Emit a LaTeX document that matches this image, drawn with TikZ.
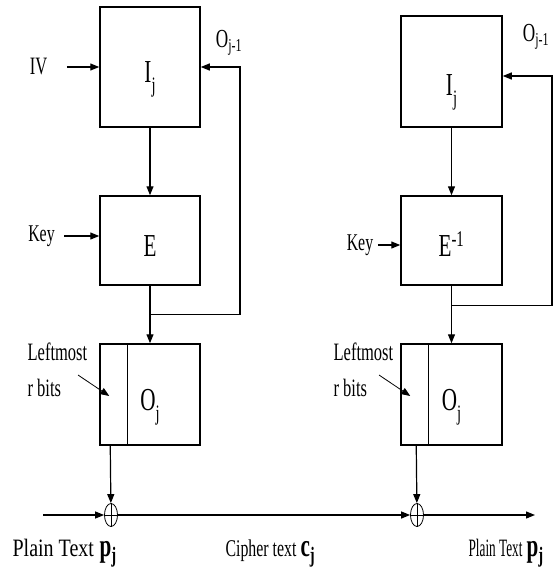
\documentclass[tikz,border=0pt]{standalone}
\usepackage{fontspec}
\setmainfont{Liberation Serif}[FakeStretch=0.66]
\newfontfamily\narrowfont{Liberation Serif}[FakeStretch=0.53]
\newfontfamily\widefont{Liberation Serif}[FakeStretch=0.8]
\usetikzlibrary{calc, arrows.meta, shapes.geometric}
\newcommand{\lowsub}[3][10pt]{\raisebox{-#1}{\fontsize{#2}{#2}\selectfont #3}}

\begin{document}
\begin{tikzpicture}[>={Triangle[length=9pt,width=7pt]}, x=1pt, y=-1pt, line width=1.2pt,
  blockbox/.style={draw, line width=1.5pt, inner sep=0pt, text height=31pt, text depth=0pt,
    font=\fontsize{32}{32}\selectfont},
  sidelbl/.style={inner sep=0pt, font=\fontsize{25}{25}\selectfont},
  keylbl/.style={inner sep=0pt, font=\fontsize{24}{24}\selectfont},
  xorgate/.style={draw, ellipse, line width=0.8pt, minimum width=13pt, minimum height=23pt, inner sep=0pt},
  botlbl/.style={inner sep=0pt, anchor=base west, font=\fontsize{25}{25}\selectfont},
  boldlbl/.style={inner sep=0pt, anchor=base west, font=\fontsize{32}{32}\selectfont\bfseries}]
  \useasboundingbox (0,0) rectangle (554,571);
  % encryption side
  \node[blockbox, minimum width=100pt, minimum height=120pt] (ijL) at (150,67) {I\lowsub{22}{j}};
  \node[blockbox, minimum width=100pt, minimum height=89pt] (eL) at (150,240.5) {E};
  \node[blockbox, minimum width=100pt, minimum height=101pt] (oL) at (150,394.5) {O\lowsub{22}{j}};
  \draw[line width=1.5pt] ($(oL.north west)+(28,0)$) -- ($(oL.south west)+(28,0)$);
  \node[sidelbl] (ivL) at (38.5,67) {IV};
  \node[keylbl] (keyL) at (41.5,236) {Key};
  \node[sidelbl, font=\fontsize{26}{26}\selectfont] (prevL) at (229,43) {O\textsubscript{j-1}};
  \draw[->, shorten <=19pt] (ivL) -- (ivL -| ijL.west);
  \draw[->, shorten <=9pt] (keyL) -- (keyL -| eL.west);
  \draw[->] (ijL) -- (eL);
  \draw[->] (eL) -- (oL);
  \coordinate (fbL) at ($(eL.south)+(0,29)$);
  \coordinate (cornerL) at (240,67);
  \draw[->] (fbL) -| (cornerL) -- (ijL.east);
  % decryption side
  \node[blockbox, minimum width=101pt, minimum height=111pt, text height=47pt] (ijR) at (451.5,71.5) {I\lowsub{22}{j}};
  \node[blockbox, minimum width=101pt, minimum height=89pt] (eR) at (451.5,240.5) {E\textsuperscript{-1}};
  \node[blockbox, minimum width=101pt, minimum height=101pt] (oR) at (451.5,394.5) {O\lowsub{22}{j}};
  \draw[line width=1.5pt] ($(oR.north west)+(28,0)$) -- ($(oR.south west)+(28,0)$);
  \node[keylbl] (keyR) at (360,245) {Key};
  \node[sidelbl, font=\fontsize{26}{26}\selectfont] (prevR) at (536,37) {O\textsubscript{j-1}};
  \draw[->, shorten <=4pt] (keyR) -- (keyR -| eR.west);
  \draw[->] (ijR) -- (eR);
  \draw[->] (eR) -- (oR);
  \coordinate (fbR) at ($(eR.south)+(0,20)$);
  \coordinate (cornerR) at (552,76);
  \draw[->] (fbR) -| (cornerR) -- (cornerR -| ijR.east);
  % leftmost r bits
  \node[sidelbl, anchor=base west] (lmL) at (27,360) {Leftmost};
  \node[sidelbl, anchor=base west] (rbL) at (27,396) {r bits};
  \coordinate (tailL) at (78,375);
  \coordinate (tipL) at ($(oL.west)+(10,1.5)$);
  \draw[->, line width=0.8pt] (tailL) -- (tipL);
  \node[sidelbl, anchor=base west] (lmR) at (333,360) {Leftmost};
  \node[sidelbl, anchor=base west] (rbR) at (333,396) {r bits};
  \coordinate (tailR) at (379,375);
  \coordinate (tipR) at ($(oR.west)+(10,1.5)$);
  \draw[->, line width=0.8pt] (tailR) -- (tipR);
  % xor line
  \coordinate (outL) at ($(oL.south west)+(11,0)$);
  \coordinate (outR) at ($(oR.south west)+(16,0)$);
  \node[xorgate] (xorL) at (111,515) {};
  \node[xorgate] (xorR) at (417,515) {};
  \draw[line width=0.8pt] (xorL.north) -- (xorL.south) (xorL.west) -- (xorL.east);
  \draw[line width=0.8pt] (xorR.north) -- (xorR.south) (xorR.west) -- (xorR.east);
  \draw[->] (outL) -- (xorL);
  \draw[->] (outR) -- (xorR);
  \coordinate (pin) at (43,515);
  \coordinate (pout) at (535,515);
  \draw[->] (pin) -- (xorL);
  \draw[->] (xorL) -- (xorR);
  \draw[->] (xorR) -- (pout);
  % bottom labels
  \node[botlbl, font=\fontsize{25}{25}\widefont] (ptL) at (12,556) {Plain Text};
  \node[boldlbl] (pL) at (99,556) {p\lowsub[6pt]{22}{j}};
  \node[botlbl, font=\fontsize{24}{24}\selectfont] (ctM) at (225,556) {Cipher text};
  \node[boldlbl] (cM) at (300,556) {c\lowsub[6pt]{22}{j}};
  \node[botlbl, font=\fontsize{25}{25}\narrowfont] (ptR) at (468,556) {Plain Text};
  \node[boldlbl] (pR) at (526,556) {p\lowsub[6pt]{22}{j}};
\end{tikzpicture}
\end{document}
